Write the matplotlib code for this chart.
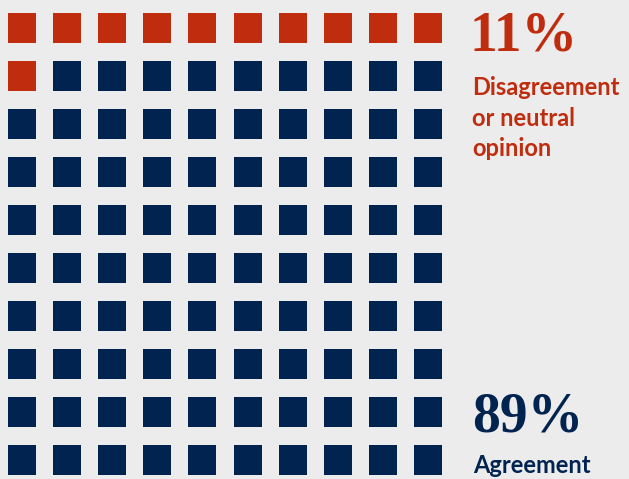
import matplotlib
matplotlib.use("Agg")
import matplotlib.pyplot as plt
import matplotlib.patches as patches

# survey shares, in percent
labels = ["Disagreement\nor neutral\nopinion", "Agreement"]
shares = [11, 89]
colors = ["#BF2C0E", "#00234F"]

n_cols = 10
n_rows = 10

fig = plt.figure(figsize=(6.29, 4.79), dpi=100, facecolor="#ECECEC")
ax = fig.add_axes([0, 0, 1, 1])
ax.set_xlim(0, 629)
ax.set_ylim(479, 0)
ax.axis("off")

# waffle: one square per percent, filled row by row from the top left
x0, y0 = 8, 13
dx, dy = 45.1, 48
w, h = 28, 30
idx = 0
for share, c in zip(shares, colors):
    for k in range(share):
        r, col = divmod(idx, n_cols)
        ax.add_patch(patches.Rectangle((x0 + col * dx, y0 + r * dy), w, h,
                                       fc=c, ec="none"))
        idx += 1

# labels on the right
ax.text(470, 50, f"{shares[0]}%", color=colors[0], fontsize=40,
        family="Liberation Serif", weight="bold", va="baseline")
ax.text(472, 76, labels[0], color=colors[0], fontsize=17,
        family="Lato", weight="bold", va="top", linespacing=1.4)
ax.text(472, 432, f"{shares[1]}%", color=colors[1], fontsize=40,
        family="Liberation Serif", weight="bold", va="baseline")
ax.text(473, 473, labels[1], color=colors[1], fontsize=17,
        family="Lato", weight="bold", va="baseline")

fig.savefig("out.png", dpi=100, facecolor=fig.get_facecolor())
